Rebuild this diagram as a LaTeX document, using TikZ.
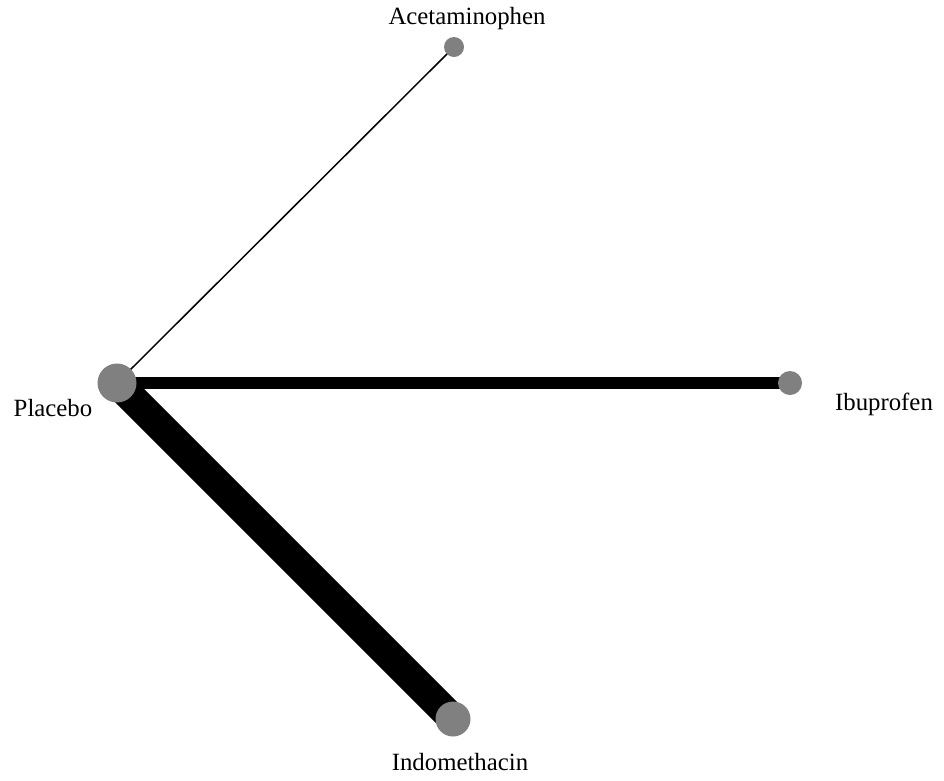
\documentclass[tikz,border=0pt]{standalone}
\usepackage{fontspec}
\setmainfont{Liberation Serif}
\usetikzlibrary{backgrounds}

\tikzset{
  drug/.style={circle, fill=gray, inner sep=0pt},
  lbl/.style={font=\fontsize{24.8}{29}\selectfont, inner sep=0pt},
  arm/.style={draw=black}
}

\begin{document}
\begin{tikzpicture}[x=1pt, y=-1pt]
\useasboundingbox (0,0) rectangle (944,780);

% Treatments
\node[drug, minimum size=39pt] (placebo) at (117,383) {};
\node[drug, minimum size=20pt] (acet) at (454,47) {};
\node[drug, minimum size=24pt] (ibu) at (790,383) {};
\node[drug, minimum size=35pt] (indo) at (453,719) {};

% Labels
\node[lbl] (placeboL) at (53,408) {Placebo};
\node[lbl] (acetL) at (467,19) {Acetaminophen};
\node[lbl] (ibuL) at (884,404) {Ibuprofen};
\node[lbl] (indoL) at (460,762) {Indomethacin};

% Comparisons
\begin{pgfonlayer}{background}
\draw[arm, line width=1.5pt] (placebo.center) -- (acet.center);
\draw[arm, line width=12pt] (placebo.center) -- (ibu.center);
\draw[arm, line width=30pt] (placebo.center) -- (indo.center);
\end{pgfonlayer}

\end{tikzpicture}
\end{document}
